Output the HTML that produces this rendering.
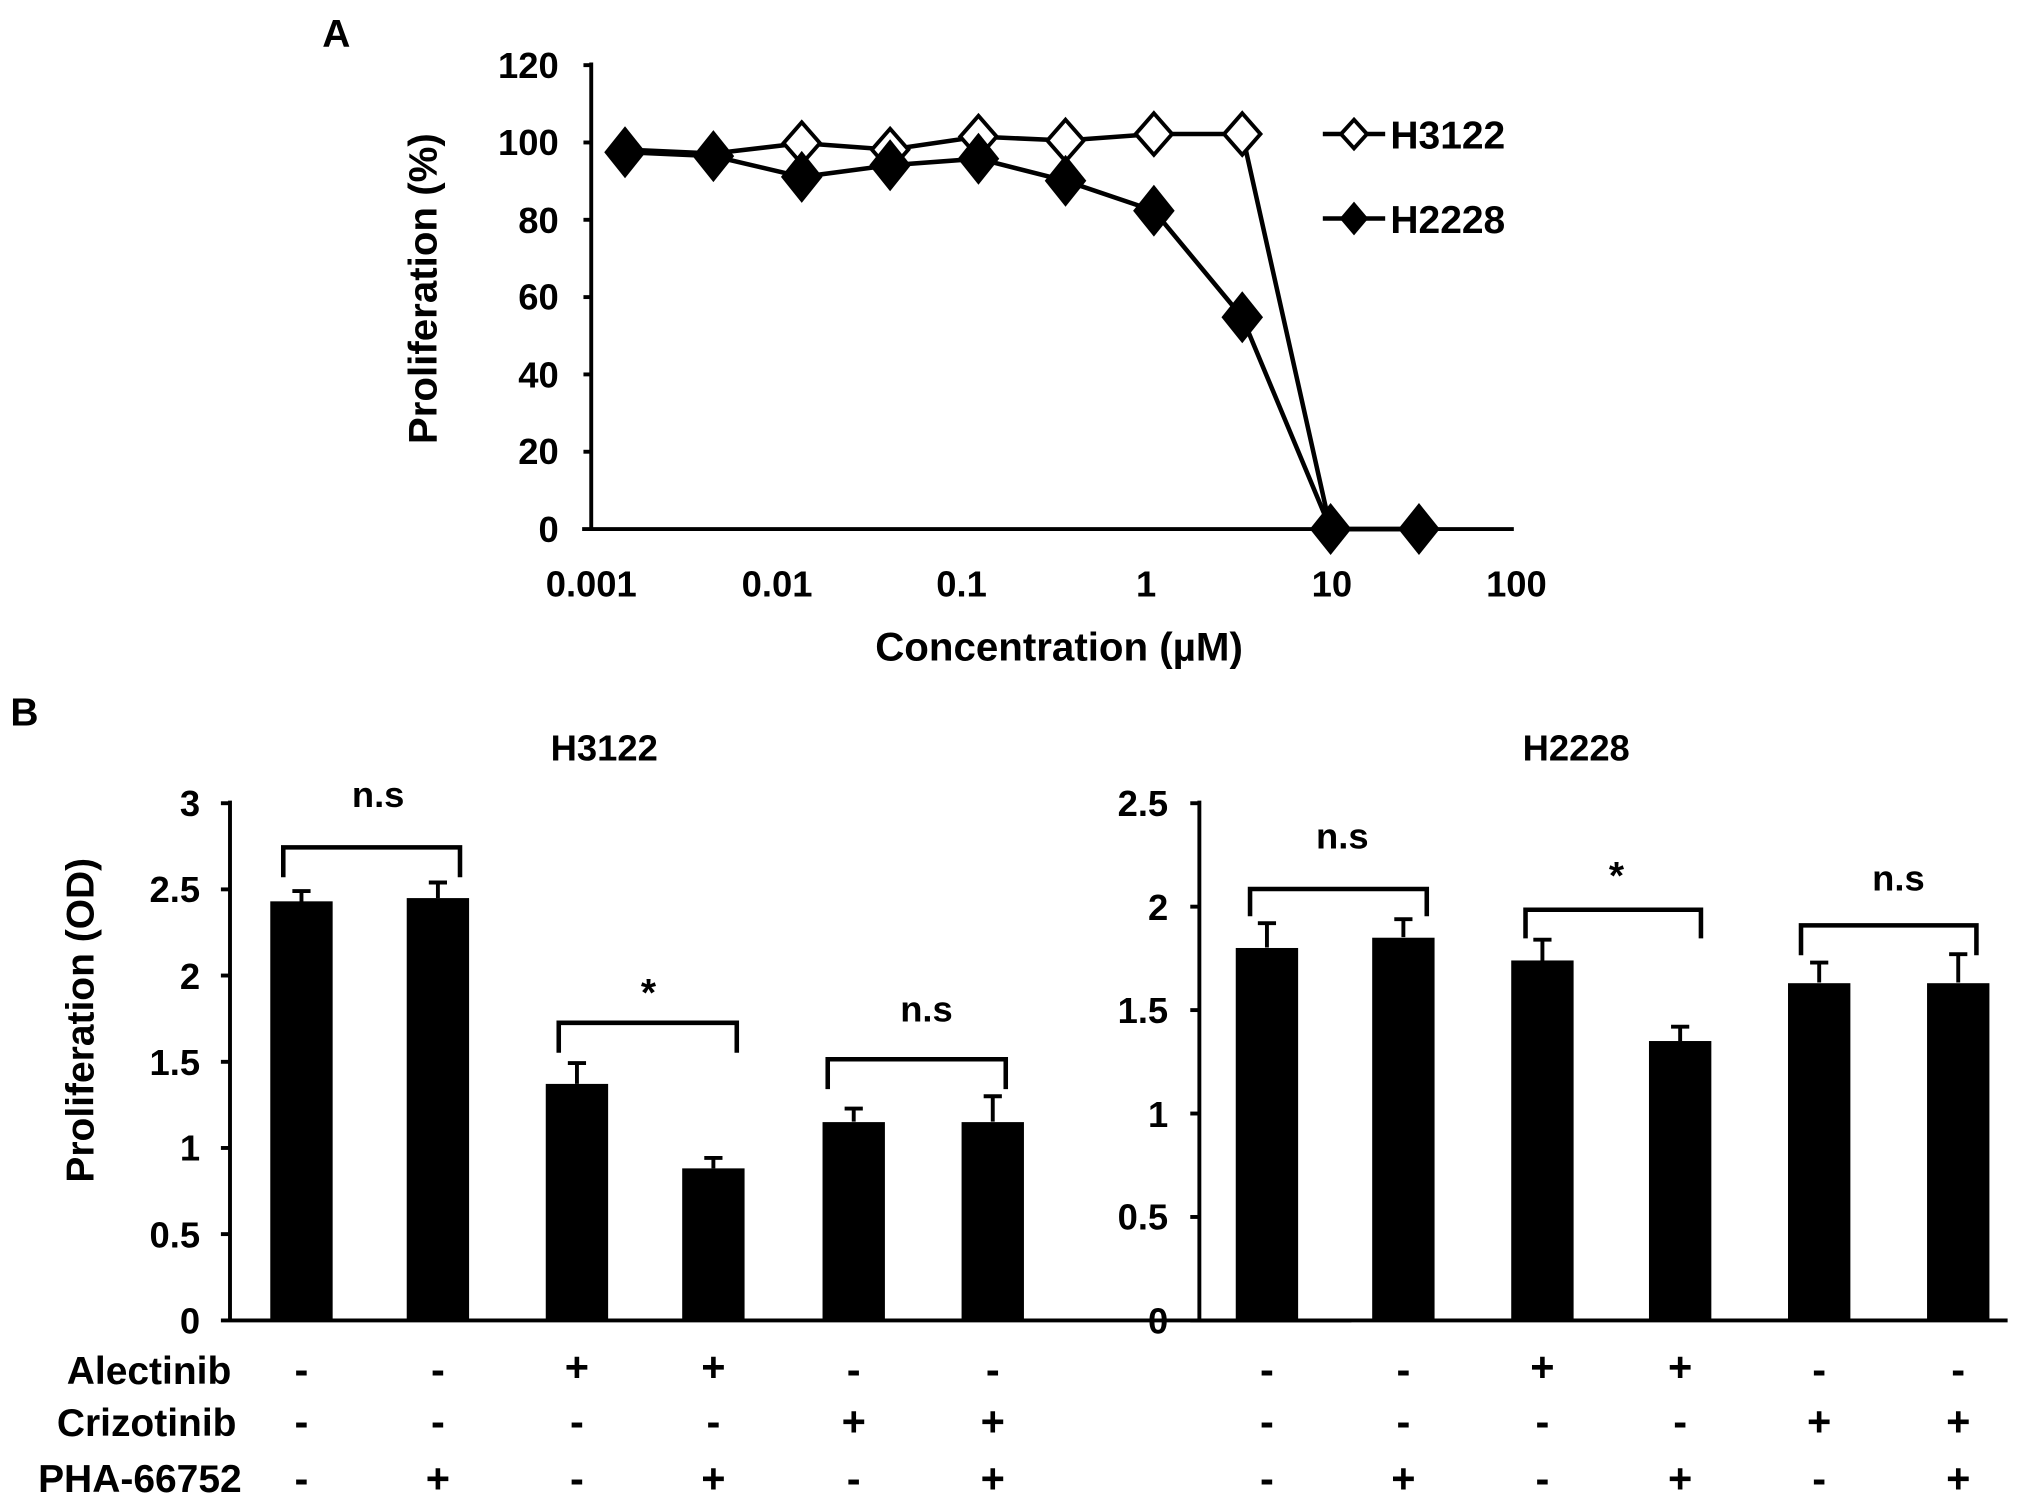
<!DOCTYPE html>
<html><head><meta charset="utf-8"><style>
html,body{margin:0;padding:0;background:#fff;}
svg{display:block;}
text{font-family:"Liberation Sans",Arial,sans-serif;font-weight:bold;fill:#000;}
</style></head><body>
<svg width="2031" height="1509" viewBox="0 0 1563 1161" xmlns="http://www.w3.org/2000/svg">
<rect width="1563" height="1161" fill="#fff"/>
<!-- Panel A -->
<text x="248" y="36" font-size="30">A</text>
<g stroke="#000" stroke-width="3" fill="none">
<line x1="455" y1="48" x2="455" y2="408"/>
<line x1="448" y1="407" x2="1165" y2="407"/>
<line x1="449" y1="50" x2="455" y2="50"/><line x1="449" y1="109.5" x2="455" y2="109.5"/><line x1="449" y1="169" x2="455" y2="169"/><line x1="449" y1="228.5" x2="455" y2="228.5"/><line x1="449" y1="288" x2="455" y2="288"/><line x1="449" y1="347.5" x2="455" y2="347.5"/>
</g>
<g font-size="28" text-anchor="end">
<text x="430" y="60">120</text><text x="430" y="119">100</text><text x="430" y="179">80</text><text x="430" y="238">60</text><text x="430" y="298">40</text><text x="430" y="357">20</text><text x="430" y="417">0</text>
</g>
<g font-size="28" text-anchor="middle">
<text x="455" y="459">0.001</text><text x="598" y="459">0.01</text><text x="740" y="459">0.1</text><text x="882" y="459">1</text><text x="1025" y="459">10</text><text x="1167" y="459">100</text>
<text x="815" y="508" font-size="31">Concentration (µM)</text>
<text transform="translate(336,222) rotate(-90)" font-size="31">Proliferation (%)</text>
</g>
<polyline fill="none" stroke="#000" stroke-width="3.5" points="481,115 549,118 617,110 685,115 753,105 820,108 888,103 956,103 1024,407 1092,407"/>
<polyline fill="none" stroke="#000" stroke-width="3.5" points="481,117 549,120 617,136 685,127 753,122 820,139 888,162 956,244 1024,407 1092,407"/>
<g fill="#fff" stroke="#000" stroke-width="3">
<path d="M617,94 l14,16 l-14,16 l-14,-16z"/><path d="M685,99 l14,16 l-14,16 l-14,-16z"/><path d="M753,89 l14,16 l-14,16 l-14,-16z"/><path d="M820,92 l14,16 l-14,16 l-14,-16z"/><path d="M888,87 l14,16 l-14,16 l-14,-16z"/><path d="M956,87 l14,16 l-14,16 l-14,-16z"/>
</g>
<g fill="#000">
<path d="M481,97 l16,20 l-16,20 l-16,-20z"/><path d="M549,100 l16,20 l-16,20 l-16,-20z"/><path d="M617,116 l16,20 l-16,20 l-16,-20z"/><path d="M685,107 l16,20 l-16,20 l-16,-20z"/><path d="M753,102 l16,20 l-16,20 l-16,-20z"/><path d="M820,119 l16,20 l-16,20 l-16,-20z"/><path d="M888,142 l16,20 l-16,20 l-16,-20z"/><path d="M956,224 l16,20 l-16,20 l-16,-20z"/><path d="M1024,387 l16,20 l-16,20 l-16,-20z"/><path d="M1092,387 l16,20 l-16,20 l-16,-20z"/>
</g>
<!-- legend -->
<line x1="1018" y1="103" x2="1066" y2="103" stroke="#000" stroke-width="3.5"/>
<path d="M1042,92 l10,11 l-10,11 l-10,-11z" fill="#fff" stroke="#000" stroke-width="3"/>
<text x="1070" y="114" font-size="30">H3122</text>
<line x1="1018" y1="168" x2="1066" y2="168" stroke="#000" stroke-width="3.5"/>
<path d="M1042,155 l11,13 l-11,13 l-11,-13z" fill="#000"/>
<text x="1070" y="179" font-size="30">H2228</text>

<!-- Panel B -->
<text x="8" y="558" font-size="30">B</text>
<text x="465" y="585" font-size="28" text-anchor="middle">H3122</text>
<text x="1213" y="585" font-size="28" text-anchor="middle">H2228</text>
<g stroke="#000" stroke-width="3" fill="none">
<line x1="177" y1="616" x2="177" y2="1017"/>
<line x1="170" y1="1016" x2="1040" y2="1016"/>
<line x1="170" y1="618" x2="177" y2="618"/><line x1="170" y1="684.3" x2="177" y2="684.3"/><line x1="170" y1="750.6" x2="177" y2="750.6"/><line x1="170" y1="817" x2="177" y2="817"/><line x1="170" y1="883.3" x2="177" y2="883.3"/><line x1="170" y1="949.6" x2="177" y2="949.6"/>
<line x1="923" y1="616" x2="923" y2="1017"/>
<line x1="916" y1="1016" x2="1545" y2="1016"/>
<line x1="916" y1="618" x2="923" y2="618"/><line x1="916" y1="697.6" x2="923" y2="697.6"/><line x1="916" y1="777.2" x2="923" y2="777.2"/><line x1="916" y1="856.8" x2="923" y2="856.8"/><line x1="916" y1="936.4" x2="923" y2="936.4"/>
</g>
<g font-size="28" text-anchor="end">
<text x="154" y="628">3</text><text x="154" y="694">2.5</text><text x="154" y="761">2</text><text x="154" y="827">1.5</text><text x="154" y="893">1</text><text x="154" y="960">0.5</text><text x="154" y="1026">0</text>
<text x="899" y="628">2.5</text><text x="899" y="708">2</text><text x="899" y="787">1.5</text><text x="899" y="867">1</text><text x="899" y="946">0.5</text><text x="899" y="1026">0</text>
</g>
<text transform="translate(72,785) rotate(-90)" font-size="30" text-anchor="middle">Proliferation (OD)</text>
<g fill="#000">
<rect x="208" y="693.5" width="48" height="322.5"/><rect x="313" y="691" width="48" height="325"/><rect x="420" y="834" width="48" height="182"/><rect x="525" y="899" width="48" height="117"/><rect x="633" y="863.4" width="48" height="152.6"/><rect x="740" y="863.4" width="48" height="152.6"/>
<rect x="951" y="729.4" width="48" height="286.6"/><rect x="1056" y="721.5" width="48" height="294.5"/><rect x="1163" y="739" width="48" height="277"/><rect x="1269" y="801" width="48" height="215"/><rect x="1376" y="756.5" width="48" height="259.5"/><rect x="1483" y="756.5" width="48" height="259.5"/>
</g>
<g stroke="#000" stroke-width="3" fill="none">
<path d="M232,694 V685.6 M225,685.6 H239"/><path d="M337,691 V679 M330,679 H344"/><path d="M444,834 V818 M437,818 H451"/><path d="M549,899 V891 M542,891 H556"/><path d="M657,863 V853 M650,853 H664"/><path d="M764,863 V843.5 M757,843.5 H771"/>
<path d="M975,729 V710.3 M968,710.3 H982"/><path d="M1080,721 V707.2 M1073,707.2 H1087"/><path d="M1187,739 V723 M1180,723 H1194"/><path d="M1293,801 V790 M1286,790 H1300"/><path d="M1400,756 V740.6 M1393,740.6 H1407"/><path d="M1507,756 V734.2 M1500,734.2 H1514"/>
</g>
<g stroke="#000" stroke-width="3.5" fill="none">
<path d="M218,675 V652 H354 V675"/><path d="M430,810 V787 H567 V810"/><path d="M637,838 V815 H774 V838"/>
<path d="M962,705 V684 H1098 V705"/><path d="M1174,722 V700 H1309 V722"/><path d="M1386,735 V712 H1521 V735"/>
</g>
<g font-size="28" text-anchor="middle">
<text x="291" y="621">n.s</text><text x="499" y="774" font-size="30">*</text><text x="713" y="786">n.s</text>
<text x="1033" y="653">n.s</text><text x="1244" y="684" font-size="30">*</text><text x="1461" y="685">n.s</text>
</g>
<g font-size="30" text-anchor="end">
<text x="178" y="1065">Alectinib</text><text x="182" y="1105">Crizotinib</text><text x="186" y="1148">PHA-66752</text>
</g>
<g font-size="32" text-anchor="middle">
<text x="232" y="1065">-</text><text x="337" y="1065">-</text><text x="444" y="1063">+</text><text x="549" y="1063">+</text><text x="657" y="1065">-</text><text x="764" y="1065">-</text>
<text x="232" y="1105">-</text><text x="337" y="1105">-</text><text x="444" y="1105">-</text><text x="549" y="1105">-</text><text x="657" y="1105">+</text><text x="764" y="1105">+</text>
<text x="232" y="1149">-</text><text x="337" y="1149">+</text><text x="444" y="1149">-</text><text x="549" y="1149">+</text><text x="657" y="1149">-</text><text x="764" y="1149">+</text>
<text x="975" y="1065">-</text><text x="1080" y="1065">-</text><text x="1187" y="1063">+</text><text x="1293" y="1063">+</text><text x="1400" y="1065">-</text><text x="1507" y="1065">-</text>
<text x="975" y="1105">-</text><text x="1080" y="1105">-</text><text x="1187" y="1105">-</text><text x="1293" y="1105">-</text><text x="1400" y="1105">+</text><text x="1507" y="1105">+</text>
<text x="975" y="1149">-</text><text x="1080" y="1149">+</text><text x="1187" y="1149">-</text><text x="1293" y="1149">+</text><text x="1400" y="1149">-</text><text x="1507" y="1149">+</text>
</g>
</svg>
</body></html>
